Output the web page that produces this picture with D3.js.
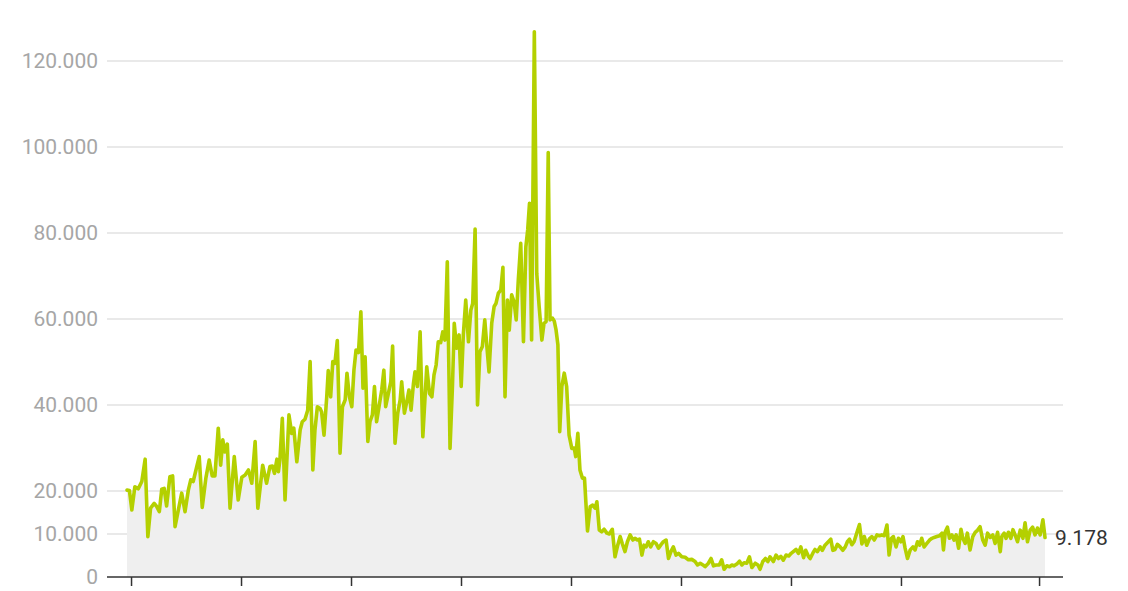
<!DOCTYPE html>
<html>
<head>
<meta charset="utf-8">
<script src="https://cdn.jsdelivr.net/npm/d3@7"></script>
<style>
  html, body { margin: 0; padding: 0; background: #ffffff; }
  svg { display: block; font-family: Roboto, "Noto Sans", sans-serif; }
</style>
</head>
<body>
<svg id="chart" width="1128" height="591"></svg>
<script>
// Day offsets from the first observation (x) and values (y)
const days = [
  0,8,16,26,37,49,60,69,78,90,98,107,115,123,131,142,151,159,170,181,192,203,211,219,231,239,249,261,272,282,291,302,310,317,324,332,341,355,368,380,391,402,413,424,433,449,462,473,
  481,488,496,501,506,514,523,536,545,552,562,573,580,589,598,606,615,622,630,639,644,652,661,666,674,681,688,696,705,713,722,728,736,744,751,758,766,774,781,788,797,804,812,819,826,834,843,850,856,865,873,879,887,896,904,909,918,926,933,940,948,953,
  961,970,979,992,1001,1009,1016,1023,1030,1038,1045,1052,1060,1069,1077,1083,1091,1099,1106,1113,1121,1130,1138,1144,1152,1160,1168,1176,1184,1191,1198,1207,1215,1221,1229,1237,1244,1251,1259,1265,1273,1281,1288,1295,1303,1312,1320,1326,1332,
  1339,1348,1356,1364,1373,1380,1387,1394,1400,1408,1414,1420,1426,1432,1439,1447,1455,1463,1472,1480,1485,1492,1499,1507,1514,1524,
  1533,1541,1549,1555,1563,1571,1579,1588,1596,1606,1615,1624,1632,1639,1648,1656,1665,1674,1681,1689,1696,1704,1711,1718,1725,1733,1742,1751,1759,1766,1775,1784,1792,1800,1808,1817,1825,1836,1847,1858,1869,1880,1888,1897,1906,1913,1924,1933,1941,1950,1960,1968,1976,1985,1994,2002,2009,2018,2027,2035,2042,2051,2060,2068,2079,2088,2095,2104,2113,2121,2128,2139,2148,2156,2164,2172,2181,2190,2198,2205,2214,2222,2230,2239,2246,2255,2261,2270,2277,2285,2294,2301,2310,2321,2329,2336,2343,2351,2360,2369,2377,2384,2391,2399,2406,2415,2424,2432,2440,2448,2457,2465,2473,2482,2490,2498,2506,2515,2522,2530,2536,2545,
  2553,2561,2568,2575,2583,2592,2601,2608,2616,2623,2630,2638,2647,2656,2664,2671,2680,2689,2697,2702,2708,2715,2722,2730,2737,2744,2752,2760,2766,2774,2781,2790,2799,2807,2815,2823,2832,2840,2848,2857,2865,2873,2881,2890,2895,2903,2909,2917,2925,2932,2939,2947,2956,2965,2972,2980,2989,2997,3005,3013,3022,3031,3038
];
const values = [
  20200,20100,15600,21000,20500,22200,27400,9400,16000,17100,16400,15200,20400,20600,16500,23300,23500,11700,15600,19500,15200,20200,22600,22200,25700,28000,16200,23000,27200,23500,23500,34600,26000,31900,29100,30900,16000,28000,17900,23200,23700,24900,21800,31500,16000,26000,21800,25700,
  25800,24100,27400,24500,27200,36900,17900,37700,33400,34600,26800,34200,36100,36700,38800,50100,24900,34200,39600,39200,38400,33000,41900,48000,41900,50100,49700,55000,28800,39600,41200,47400,41900,39600,48100,52800,52200,61700,43900,51200,31500,36100,37700,44300,36100,39600,43500,48100,39600,42700,45400,53700,31100,38100,41200,45400,38100,40800,43500,38800,45000,47700,
  44300,57000,32600,48900,42700,41900,47000,49300,54700,54500,57000,55100,73300,29900,44300,59000,53200,56300,44300,56300,64400,54700,62100,63600,80900,40000,52400,53600,59800,53600,47700,59000,62900,63600,66000,66700,72000,41900,64400,57400,65600,64000,59800,69100,77600,54700,76800,80700,86900,
  55100,126800,70600,62900,55100,59000,59400,98700,59800,60200,59500,57400,54000,33800,44300,47400,44300,33000,29900,30000,28000,33400,24900,23000,23000,10700,
  16400,16700,16000,17500,10900,10500,11100,10200,10000,11100,4700,7400,9400,7800,5900,8200,9800,8600,9000,8600,8800,5100,7400,7000,8200,7000,8200,7800,6700,7400,8200,8600,4300,5900,7000,5100,5500,4700,4600,4000,4100,3600,2800,3200,2800,2400,3200,4300,2600,2800,2800,4000,1800,2600,2400,2800,2600,3000,3700,2800,3300,3200,4700,2200,3200,2800,1800,3600,4300,3600,4700,3600,5100,4300,4800,3900,5100,4900,5500,5900,6400,5500,7000,4500,6200,4800,4300,5600,6400,5900,7000,6200,7400,8200,8800,6200,6400,7600,7000,6200,7000,8200,8800,7500,8200,10200,12200,7700,9400,7400,8900,9400,8600,9800,9600,9800,9600,12100,5100,9000,9400,7000,
  9000,8200,9400,6700,4300,6300,7000,6300,8200,7400,9000,7000,7800,8600,9000,9200,9400,9600,10200,6300,10500,11600,9000,9800,8600,9800,6700,11100,9000,7800,10200,6300,9400,10400,10900,11700,8600,7400,10200,9200,9800,7800,10400,5900,9400,10200,9000,10400,9000,11000,9800,8200,10900,9000,12600,8200,10900,11600,9800,11400,9800,13300,9178
];
const yTicks = [0, 10000, 20000, 40000, 60000, 80000, 100000, 120000];
const xTickDays = [15, 379, 743, 1107, 1471, 1835, 2199, 2563, 3020];
const lastDay = 3038;

const svg = d3.select("#chart");
const x = d3.scaleLinear().domain([0, lastDay]).range([127, 1045]);
const y = d3.scaleLinear().domain([0, 120000]).range([577, 61]);
const gridLeft = 107, gridRight = 1063;

const loc = d3.formatLocale({ decimal: ",", thousands: ".", grouping: [3], currency: ["", ""] });
const fmt = loc.format(",d");

const data = days.map((d, i) => ({ d, v: values[i] }));

// gridlines
svg.append("g").selectAll("line").data(yTicks.filter(t => t > 0)).join("line")
  .attr("x1", gridLeft).attr("x2", gridRight)
  .attr("y1", d => y(d)).attr("y2", d => y(d))
  .attr("stroke", "#e2e2e2").attr("stroke-width", 1.5);

// y labels
svg.append("g").selectAll("text").data(yTicks).join("text")
  .attr("x", 98).attr("y", d => y(d)).attr("dy", "0.35em")
  .attr("text-anchor", "end").attr("fill", "#a6a6a6")
  .style("font-size", "21px").text(d => fmt(d));

// area
svg.append("path").datum(data)
  .attr("fill", "#efefef")
  .attr("d", d3.area().x(p => x(p.d)).y0(y(0)).y1(p => y(p.v)));

// line
svg.append("path").datum(data)
  .attr("fill", "none").attr("stroke", "#b4d000").attr("stroke-width", 3.6)
  .attr("stroke-linejoin", "round").attr("stroke-linecap", "round")
  .attr("d", d3.line().x(p => x(p.d)).y(p => y(p.v)));

// x axis baseline and ticks
svg.append("line").attr("x1", gridLeft).attr("x2", gridRight)
  .attr("y1", y(0)).attr("y2", y(0)).attr("stroke", "#333").attr("stroke-width", 1.5);
svg.append("g").selectAll("line").data(xTickDays).join("line")
  .attr("x1", d => x(d)).attr("x2", d => x(d))
  .attr("y1", y(0)).attr("y2", y(0) + 9)
  .attr("stroke", "#333").attr("stroke-width", 1.5);

// last value label
const last = data[data.length - 1];
svg.append("text").attr("x", x(last.d) + 10).attr("y", y(last.v)).attr("dy", "0.35em")
  .attr("fill", "#333").style("font-size", "21px").text(fmt(last.v));
</script>
</body>
</html>
